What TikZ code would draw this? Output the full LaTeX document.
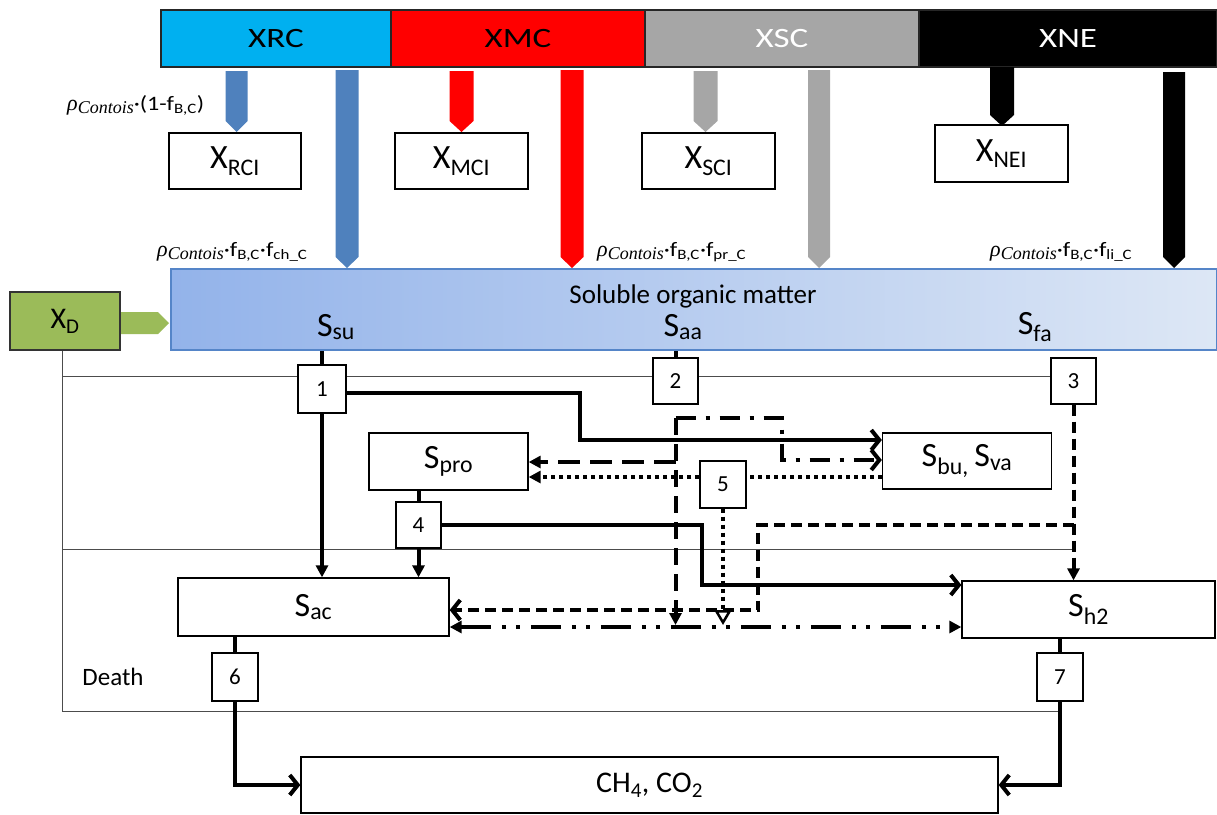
\documentclass[tikz,border=0pt]{standalone}
\usepackage{fontspec}
\setmainfont{Carlito}
\newfontfamily\widefont[FakeStretch=1.25]{Carlito}
\newfontfamily\labfont[FakeStretch=1.18]{Carlito}
\newfontfamily\serifit{Liberation Serif}
\usetikzlibrary{arrows.meta,calc}
\definecolor{cxrc}{HTML}{00B0F0}
\definecolor{cxmc}{HTML}{FF0000}
\definecolor{cxsc}{HTML}{A6A6A6}
\definecolor{cblue}{HTML}{4F81BD}
\definecolor{cgreen}{HTML}{9BBB59}
\definecolor{csomL}{HTML}{93B3EA}
\definecolor{csomR}{HTML}{DDE7F5}
\definecolor{csomB}{HTML}{5585C8}
\newcommand\fsz[1]{\fontsize{#1}{#1}\selectfont}
\newcommand\rhoc{{\serifit\itshape\fsz{22}ρ}\raisebox{-3pt}{\serifit\itshape\fsz{18}Contois}}
\newcommand\blockarr[5]{\fill[#1] ({#2-#5/2},#3) -- ({#2+#5/2},#3) -- ({#2+#5/2},{#4-11}) -- (#2,#4) -- ({#2-#5/2},{#4-11}) -- cycle;}
\begin{document}
\begin{tikzpicture}[x=1pt,y=-1pt,
  box/.style={draw, line width=1.3pt, fill=white, inner sep=0pt},
  num/.style={draw, line width=1.2pt, fill=white, inner sep=0pt, font=\fsz{23}},
  bar/.style={draw=black!85, line width=1.5pt, inner sep=0pt, minimum height=57pt, font=\widefont\fsz{28}},
  lab/.style={inner sep=0pt, font=\labfont\fsz{20.5}},
  flow/.style={line width=4pt},
  thinl/.style={line width=0.9pt, draw=black!70},
  ftri/.tip={Triangle[length=12pt,width=12pt]},
  cbarb/.tip={Straight Barb[length=8pt,width=20pt]},
  dlong/.style={dash pattern=on 17pt off 9pt},
  dlongb/.style={dash pattern=on 22pt off 10pt},
  ddot/.style={dash pattern=on 20pt off 10pt on 4pt off 10pt},
  ddotdot/.style={dash pattern=on 30pt off 11pt on 4pt off 10pt on 4pt off 11pt},
  dshort/.style={dash pattern=on 11pt off 6pt},
  dots/.style={line width=4pt, dash pattern=on 4pt off 4pt}]
\useasboundingbox (0,0) rectangle (1217,814);

% thin frame lines
\draw[thinl] (62,350) -- (62,711) -- (1060,711);
\draw[thinl] (62,376) -- (1051,376);
\draw[thinl] (62,549) -- (1075,549);

% top bar
\node[bar, fill=cxrc, minimum width=230pt] (xrc) at (276,38.5) {XRC};
\node[bar, fill=cxmc, minimum width=254pt] (xmc) at (518,38.5) {XMC};
\node[bar, fill=cxsc, minimum width=274pt, text=white] (xsc) at (782,38.5) {XSC};
\node[bar, fill=black, minimum width=298pt, text=white] (xne) at (1068,38.5) {XNE};

% block arrows
\blockarr{cblue}{236.5}{71}{132}{22}
\blockarr{cblue}{347}{70}{268}{23}
\blockarr{cxmc}{461.5}{71}{132}{24}
\blockarr{cxmc}{572}{70}{268}{23}
\blockarr{cxsc}{705.5}{71}{132}{24}
\blockarr{cxsc}{819}{70}{268}{22}
\blockarr{black}{1002}{67}{126}{24}
\blockarr{black}{1174}{72}{268}{22}

% inert boxes
\node[box, minimum width=132pt, minimum height=56pt, font=\fsz{34}] (xrci) at (235,161) {X\textsubscript{RCI}};
\node[box, minimum width=133pt, minimum height=56pt, font=\fsz{34}] (xmci) at (461.5,161) {X\textsubscript{MCI}};
\node[box, minimum width=133pt, minimum height=56pt, font=\fsz{34}] (xsci) at (708.5,161) {X\textsubscript{SCI}};
\node[box, minimum width=133pt, minimum height=57pt, font=\fsz{34}] (xnei) at (1001.5,153.5) {X\textsubscript{NEI}};

% rate labels
\node[lab, anchor=west] (l1) at (67,105) {\rhoc·(1-f\textsubscript{B,C})};
\node[lab, anchor=west] (l2) at (157,252) {\rhoc·f\textsubscript{B,C}·f\textsubscript{ch\_C}};
\node[lab, anchor=west] (l3) at (597,252) {\rhoc·f\textsubscript{B,C}·f\textsubscript{pr\_C}};
\node[lab, anchor=west] (l4) at (990,252) {\rhoc·f\textsubscript{B,C}·f\textsubscript{li\_C}};

% soluble organic matter
\node[draw=csomB, line width=2pt, left color=csomL, right color=csomR, minimum width=1046pt, minimum height=81pt, inner sep=0pt] (som) at (693.5,309.5) {};
\node[font=\fsz{27}, inner sep=0pt] (somt) at (693,296) {Soluble organic matter};
\node[font=\fsz{34}, inner sep=0pt] (ssu) at (336,327) {S\textsubscript{su}};
\node[font=\fsz{34}, inner sep=0pt] (saa) at (683,327) {S\textsubscript{aa}};
\node[font=\fsz{34}, inner sep=0pt] (sfa) at (1035,327) {S\textsubscript{fa}};

% X_D
\node[draw=black!80, line width=1.3pt, fill=cgreen, minimum width=110pt, minimum height=58pt, font=\fsz{30}, inner sep=0pt] (xd) at (65,321) {X\textsubscript{D}};
\fill[cgreen] (121,312) -- (158,312) -- (169,323) -- (158,334) -- (121,334) -- cycle;

% process boxes
\node[num, minimum width=48pt, minimum height=48pt] (b1) at (322,389) {1};
\node[num, minimum width=45pt, minimum height=46pt] (b2) at (675.5,381) {2};
\node[num, minimum width=45pt, minimum height=46pt] (b3) at (1073.5,381) {3};
\node[num, minimum width=45pt, minimum height=46pt] (b4) at (418.5,525) {4};
\node[num, minimum width=46pt, minimum height=47pt] (b5) at (723,484.5) {5};
\node[num, minimum width=46pt, minimum height=48pt] (b6) at (235,677) {6};
\node[num, minimum width=46pt, minimum height=48pt] (b7) at (1060,677) {7};

% state boxes
\node[box, minimum width=159pt, minimum height=57pt, font=\fsz{34}] (spro) at (448.5,461.5) {S\textsubscript{pro}};
\node[box, minimum width=169pt, minimum height=56pt, font=\fsz{34}] (sbu) at (967,461) {S\textsubscript{bu,}\,S\textsubscript{va}};
\node[box, minimum width=271pt, minimum height=58pt, font=\fsz{34}] (sac) at (313.5,607) {S\textsubscript{ac}};
\node[box, minimum width=253pt, minimum height=57pt, font=\fsz{34}] (sh2) at (1088.5,609.5) {S\textsubscript{h2}};
\node[box, minimum width=697pt, minimum height=56pt, font=\fsz{30}] (ch4) at (649.5,785) {CH\textsubscript{4}, CO\textsubscript{2}};
\node[font=\fsz{25}, inner sep=0pt] (death) at (113,677) {Death};

% process 1
\draw[flow] (b1.north |- som.south) -- (b1.north);
\draw[flow,-ftri] (b1.south) -- (b1.south |- sac.north);
\draw[flow,-cbarb] (b1.east |- 0,393) -- (580,393) -- (580,440) -- (sbu.west |- 0,440);

% process 2
\draw[flow] (b2.north |- som.south) -- (b2.north);
\coordinate (j2) at (b2.south |- 0,418);
\draw[flow, dlong, -ftri] (j2) -- (j2 |- 0,625);
\draw[flow, dlongb, -ftri] (j2 |- 0,462) -- (spro.east |- 0,462);
\draw[flow, ddot, -cbarb] (j2) -- (782,418) -- (782,460) -- (sbu.west |- 0,460);
\draw[flow, ddotdot, ftri-ftri] (sac.east |- 0,627) -- (sh2.west |- 0,627);

% process 3
\draw[flow, dshort, -ftri] (b3.south) -- (b3.south |- sh2.north);
\draw[flow, dshort, -cbarb] (b3.south |- 0,525) -- (758,525) -- (758,610) -- (sac.east |- 0,610);

% process 4
\draw[flow] (spro.south -| b4) -- (b4.north);
\draw[flow,-ftri] (b4.south) -- (b4.south |- sac.north);
\draw[flow,-cbarb] (b4.east) -- (702,525) -- (702,585) -- (sh2.west |- 0,585);

% process 5
\draw[dots] (sbu.west |- 0,477) -- (b5.east |- 0,477);
\draw[dots, -ftri] (b5.west |- 0,477) -- (spro.east |- 0,477);
\draw[dots, -{Triangle[open,length=15pt,width=17pt,line width=2.5pt]}] (b5.south) -- (b5.south |- 0,625);

% processes 6 and 7
\draw[flow] (sac.south -| b6) -- (b6.north);
\draw[flow,-cbarb] (b6.south) |- (ch4.west);
\draw[flow] (sh2.south -| b7) -- (b7.north);
\draw[flow,-cbarb] (b7.south) |- (ch4.east);
\end{tikzpicture}
\end{document}
